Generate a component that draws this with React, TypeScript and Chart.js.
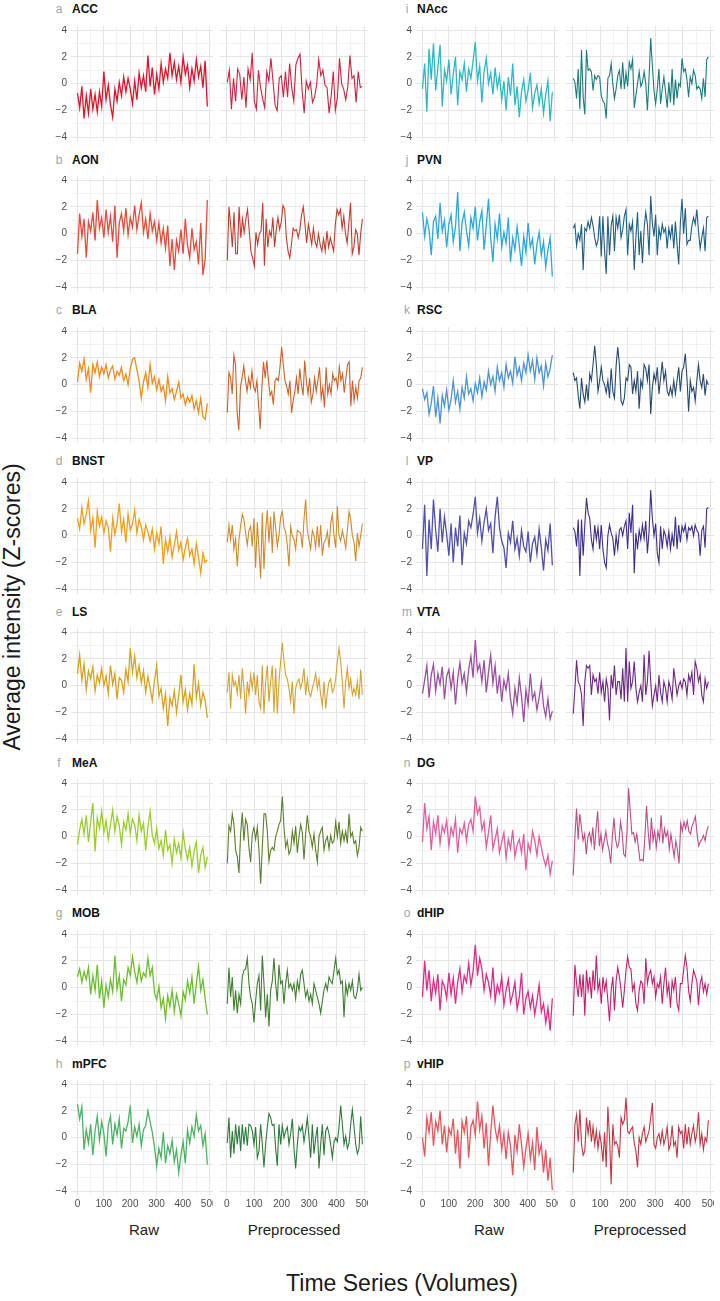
import React, { useEffect, useRef } from 'react';
import { Chart, registerables } from 'chart.js';
Chart.register(...registerables);

const ACC_RAW = [-0.7,-1.8,-0.2,-2.6,-0.9,-2.2,-0.4,-1.9,-0.8,-2.1,-0.6,-1.7,0.9,-1.2,-0.1,-1.6,-2.5,-0.4,-1.3,0.1,-0.9,0.5,-0.6,0.4,-0.4,-1.5,0.2,-1.2,0.8,-0.3,0.6,-0.6,2.1,-0.2,1.2,-0.8,0.7,-0.4,1.5,0.1,1.1,0.4,2.3,0.6,1.6,0.3,1.3,0.1,2.0,0.7,1.4,-0.3,1.1,0.2,1.8,0.5,1.3,-0.3,1.7,-1.7];
const ACC_PRE = [0.1,1.0,-1.9,0.4,-1.3,1.1,0.7,-1.2,0.5,-1.8,1.1,0.3,2.3,-1.3,-1.9,1.0,-0.3,-1.1,-1.8,0.9,0.2,1.9,0.2,-1.6,-2.0,0.4,0.6,-1.0,0.9,-1.0,1.5,-0.3,-1.3,1.4,1.9,2.2,-0.5,-2.2,0.2,-0.4,0.1,-1.4,-1.0,-0.1,1.8,0.6,1.0,-0.1,-0.3,-2.2,-0.9,0.9,-2.0,-1.0,1.9,0.0,-0.4,-1.2,-0.2,2.1,0.4,0.6,-1.4,0.9,-0.3,-0.2];
const AON_RAW = [-1.5,1.5,-0.2,1.1,-1.8,0.9,0.2,1.6,-0.5,2.5,0.4,1.2,-0.3,1.8,0.1,1.3,-0.6,2.1,-1.8,0.8,1.5,0.2,1.9,-0.1,1.2,0.5,2.1,0.3,1.4,2.3,0.1,1.1,-0.4,1.5,0.2,0.9,-0.5,0.8,-0.7,0.4,-1.1,0.6,-2.4,-0.4,-2.7,-0.5,-1.3,0.3,-1.5,1.1,-0.9,-1.8,0.4,-1.2,-0.6,-2.3,0.8,-3.1,-1.9,2.5];
const AON_PRE = [-2.0,2.0,0.7,-1.0,1.6,-1.5,-1.5,2.0,-0.3,1.1,0.1,1.1,1.8,0.2,-1.3,-1.8,-2.4,0.1,-0.8,0.0,0.2,2.3,-2.4,1.1,-1.0,0.2,-0.2,1.2,-1.0,0.3,1.2,0.3,0.9,2.1,1.8,-0.3,-1.3,-1.8,-0.8,0.4,0.2,0.3,-0.3,0.3,1.4,2.0,0.7,-0.7,0.7,0.0,-0.8,0.4,-0.6,-1.0,0.0,-0.8,-1.3,-0.4,-1.3,0.2,-1.0,-0.3,-0.8,-1.3,0.7,1.8,1.4,1.8,0.4,1.3,0.0,-0.7,0.8,2.3,-1.5,-1.0,0.3,0.0,-1.6,0.0,1.1];
const BLA_RAW = [0.2,1.6,1.0,1.9,0.4,1.2,-0.6,1.5,0.9,1.7,0.6,1.3,0.8,1.5,0.5,1.1,1.4,0.4,1.0,0.7,1.3,0.3,0.8,0.0,1.2,1.9,2.0,1.1,0.3,-1.0,0.2,0.9,-0.2,1.5,0.1,0.6,-0.4,0.4,-0.5,-0.1,-1.2,0.6,-0.6,-0.3,-1.1,-0.5,0.2,-1.0,-0.7,-1.5,-0.9,-1.3,-0.8,-1.8,-1.2,-2.1,-1.0,-2.4,-2.6,-1.4];
const BLA_PRE = [-2.1,0.9,0.5,-0.7,2.2,1.5,-2.1,-3.4,-0.2,0.5,1.4,0.3,-0.5,0.5,-0.2,1.0,-0.2,-0.5,0.3,-1.5,-3.3,-0.2,1.7,0.5,1.8,0.3,-0.8,-0.5,-1.5,0.3,0.5,0.3,1.3,2.8,1.5,0.3,-0.1,-0.7,0.3,-2.1,-1.2,-0.5,0.5,-0.7,1.2,0.0,-0.8,1.8,0.3,-0.7,0.5,-1.3,-0.7,0.5,-0.5,0.3,1.3,-1.0,-0.2,-1.7,1.3,-0.7,0.0,-0.7,0.8,0.3,0.5,-0.2,1.3,0.3,0.8,-0.6,0.5,1.5,1.7,-1.6,0.3,-1.2,-0.2,-1.0,0.3,0.5,1.3];
const BNST_RAW = [1.3,0.5,2.1,0.9,1.6,2.6,0.4,1.3,-0.9,1.8,0.7,1.4,0.2,1.1,0.6,-1.2,1.3,0.1,0.9,2.4,0.3,1.2,-0.5,1.6,0.4,0.9,1.9,0.2,1.2,0.7,-0.3,0.8,0.3,-0.4,0.5,-1.0,0.2,-0.6,0.7,-2.1,-0.3,-1.2,-0.1,-1.6,-0.7,0.3,-1.1,-0.5,-1.8,-0.9,-0.2,-1.5,-1.0,-2.1,-0.6,-1.6,-2.8,-1.3,-2.0,-1.8];
const BNST_PRE = [-0.5,0.8,-0.3,0.8,-1.0,-0.2,-2.3,-0.3,0.7,1.6,1.2,0.2,-0.7,0.4,0.7,-0.8,1.3,-2.4,1.0,-1.0,-3.2,1.7,-2.5,0.3,1.9,-0.5,1.4,-1.3,1.8,0.6,-0.8,0.0,1.4,1.8,0.6,0.3,-0.7,-2.3,0.7,0.0,-0.3,-1.0,0.4,0.3,0.2,-0.9,1.2,2.7,0.4,-0.3,-1.0,0.4,0.0,-0.9,0.7,-0.9,0.8,-1.5,-0.5,-0.3,0.3,-0.9,0.9,1.6,0.0,-0.9,2.2,0.0,-0.4,0.4,-0.2,-0.9,0.4,1.8,1.2,0.0,-0.5,-1.9,0.2,-0.8,0.0,0.9];
const LS_RAW = [0.9,2.3,0.4,1.6,-0.3,1.1,0.5,1.4,-0.4,0.8,0.2,1.3,0.0,0.7,-0.6,1.5,0.1,0.9,-1.0,0.6,0.4,-0.5,1.2,0.3,2.8,1.0,2.2,0.6,1.5,0.2,1.1,-0.5,0.7,-0.2,-1.1,0.4,1.5,-0.8,-0.2,-1.7,-0.6,-3.0,-0.9,-1.5,-0.4,-2.0,-0.7,0.8,-1.2,-0.3,-1.8,-0.6,-1.4,1.6,-0.9,0.2,-1.5,-0.5,-1.1,-2.4];
const LS_PRE = [-0.5,1.0,-1.7,0.8,0.0,0.3,-0.6,0.8,-1.0,1.3,-0.2,-2.1,0.3,-0.7,0.8,-0.2,1.0,-0.7,0.8,-1.2,-1.7,1.5,-2.1,0.3,1.5,-1.2,0.3,1.5,-2.0,1.3,-2.1,0.3,1.8,3.2,1.8,0.8,0.5,-0.2,-1.2,0.3,-2.1,-0.2,0.3,0.5,-0.2,0.3,1.3,-0.7,0.5,-0.5,-0.8,-0.2,0.3,0.9,-0.2,0.5,-0.7,-1.5,0.3,-1.7,-0.5,0.3,0.5,-0.5,-0.2,0.5,1.8,2.8,1.8,0.3,-1.7,0.3,1.3,-0.2,0.5,-0.7,-0.2,-0.7,0.3,-1.0,1.2,-0.7];
const MEA_RAW = [-0.6,0.5,1.3,0.2,1.6,-0.4,1.1,2.5,-1.1,1.4,0.6,1.9,0.3,1.2,-0.2,0.9,2.0,0.4,1.5,0.8,-0.6,1.1,0.5,1.7,0.2,1.3,0.9,-0.3,1.6,0.4,1.0,-1.0,0.7,1.9,0.1,-0.5,0.6,-0.9,-0.3,-1.4,0.5,-1.0,-0.6,-2.0,-0.2,-1.2,-0.5,-1.6,0.3,-0.9,-1.7,-0.8,-2.2,-1.1,-0.4,-2.7,-1.4,-0.8,-2.3,-1.5];
const MEA_PRE = [-2.0,0.8,0.4,1.7,0.9,-1.0,-1.5,-2.7,0.2,1.8,-0.3,1.3,0.9,-0.8,-1.9,0.2,0.7,-0.2,0.7,-1.0,-3.5,-0.8,1.7,1.7,0.4,-1.8,-1.0,-0.8,-1.0,0.0,0.4,0.9,1.2,3.0,0.7,-0.8,-0.3,-1.3,-1.0,0.4,-0.5,0.8,-1.2,0.0,0.9,0.3,-1.7,0.2,1.6,0.4,0.0,-0.8,0.2,-1.0,-1.9,0.0,0.4,0.7,-1.0,-0.3,0.0,-0.9,0.1,-0.5,-0.3,1.1,0.0,1.1,-0.5,0.4,-0.3,0.4,-0.5,1.7,0.0,0.3,-0.5,-0.3,-1.4,-0.8,0.7,0.4];
const MOB_RAW = [0.8,1.4,0.4,1.2,0.6,1.5,-0.5,0.9,-0.2,1.7,-0.8,0.5,-1.5,0.2,-0.7,0.6,-0.3,2.4,-0.1,0.9,-1.0,0.6,0.2,1.5,0.9,2.3,1.2,0.4,1.6,0.5,1.1,0.8,2.2,0.9,1.5,-0.4,-0.9,0.1,-1.5,-0.8,-2.3,-0.6,-1.4,-0.2,-1.8,-0.5,-1.2,-2.1,-0.3,-0.9,0.5,-0.4,0.8,-1.2,0.3,1.6,-0.2,0.6,-0.8,-2.0];
const MOB_PRE = [-1.2,1.5,-0.7,0.8,-1.7,-0.2,-1.9,-0.5,-1.2,0.8,1.3,1.4,2.2,0.3,-0.7,-1.2,-2.6,-1.0,0.3,0.9,-1.7,2.4,0.3,-2.2,-0.5,-2.9,-0.2,0.5,2.2,0.3,-1.0,1.7,0.3,0.5,-1.2,0.3,1.3,0.0,0.3,-0.2,0.3,-0.8,0.5,-0.2,1.0,1.3,0.3,-0.7,-0.2,-1.0,-0.5,-1.2,0.3,-0.2,-0.7,-1.2,-1.9,-1.0,-0.2,0.3,-0.2,0.8,0.5,0.3,1.3,2.2,1.0,1.3,0.3,0.5,-2.2,0.3,-0.5,0.3,-0.2,0.5,-0.7,-0.8,-0.2,1.0,-0.2,0.0];
const MPFC_RAW = [2.5,1.4,2.3,-0.9,0.6,-0.4,1.0,-1.3,0.5,1.6,-0.2,1.2,0.3,-1.4,0.9,1.6,-0.5,1.0,0.2,1.4,-0.8,0.7,0.5,1.2,2.4,-0.4,0.8,0.1,1.0,-0.6,0.6,0.9,2.0,1.2,0.4,-0.7,-2.1,-0.8,-1.5,0.4,-1.9,-0.6,-1.2,-0.2,-1.8,-0.9,-2.6,-1.3,-0.3,-1.9,0.6,-0.4,0.8,0.1,1.7,0.5,0.9,-0.6,0.3,-2.0];
const MPFC_PRE = [-0.4,1.5,-1.5,0.5,-1.2,1.0,-0.5,0.9,-1.0,1.0,-0.5,0.8,-0.6,1.0,0.9,0.5,-0.5,0.8,-1.5,-1.0,1.0,-0.5,-2.2,-0.5,0.8,1.8,1.5,0.9,1.0,-0.8,-2.1,1.0,-0.5,0.9,0.0,0.5,0.8,-0.5,0.3,1.4,-0.8,-2.3,-0.5,0.8,0.5,0.9,-0.3,0.5,1.5,0.0,-1.5,1.0,-1.2,0.0,0.8,-2.3,-0.5,1.0,-1.3,0.5,0.8,0.3,-0.5,-1.5,-0.3,0.0,-0.3,0.8,2.4,1.0,-0.5,0.1,-0.8,-0.4,1.0,2.1,0.8,-0.5,-1.2,-0.8,1.6,-0.5];
const NACC_RAW = [-0.4,1.5,-2.1,2.6,0.3,3.0,-0.5,1.2,2.9,-1.7,1.0,0.2,1.8,-0.8,0.7,2.0,-1.6,0.9,0.3,1.5,-0.6,1.1,0.4,1.7,3.1,0.2,1.3,-1.4,0.9,1.9,0.0,0.8,-0.8,1.2,-0.3,0.6,-1.2,0.2,-2.0,0.5,-0.9,1.5,-1.6,-0.2,-2.5,-0.6,0.3,-1.3,-0.5,0.8,-1.8,-0.7,-0.1,-1.5,-0.4,-2.2,-0.8,0.2,-2.8,-0.6];
const NACC_PRE = [0.4,0.1,-1.1,1.1,-1.9,2.5,-1.0,-2.3,2.5,1.0,1.1,0.9,-0.5,0.6,0.3,0.6,0.5,-0.9,-1.3,-1.5,-2.6,0.4,0.6,1.5,0.0,-1.1,-0.4,0.6,1.0,-0.4,1.6,-0.4,0.8,-0.2,1.6,1.1,1.8,-1.8,-0.9,0.0,0.9,-0.2,0.1,0.9,0.0,-2.0,0.5,3.4,1.3,-0.5,-1.5,-0.4,1.1,-1.5,-0.4,0.5,-0.6,-1.8,0.1,-1.4,1.1,-1.6,0.3,-1.1,0.0,-0.2,1.9,0.9,1.1,0.3,-1.0,0.5,0.0,1.0,0.6,-0.4,-0.2,-0.4,-1.1,0.4,-1.0,1.8,2.0];
const PVN_RAW = [1.6,-0.2,1.1,0.3,-1.6,0.9,1.3,-0.4,2.3,0.2,1.0,-1.0,0.7,1.4,-0.6,0.5,3.1,-1.3,0.8,1.6,0.2,-0.9,1.2,0.4,2.0,-0.5,0.9,1.7,-1.2,0.6,2.6,-0.3,-2.1,0.7,-0.4,1.5,-1.0,0.1,-0.7,1.2,-2.1,-0.3,-1.2,0.5,-0.9,-2.4,-0.2,-1.4,0.8,-1.0,-0.4,-2.3,-0.8,0.1,-1.6,-0.6,-2.5,-1.2,-0.3,-3.2];
const PVN_PRE = [0.4,0.7,-0.9,0.0,-0.5,0.7,-2.7,0.4,0.2,0.9,0.4,1.2,0.6,-0.3,-0.9,-0.5,1.3,-1.7,1.3,-1.3,-3.0,1.3,-1.6,0.6,1.3,-1.3,1.2,0.4,1.4,-0.3,0.3,1.3,1.8,-1.6,0.7,0.2,0.9,-2.7,-0.3,1.6,-1.6,0.2,-2.2,0.4,1.6,0.7,-1.6,2.8,0.8,-0.2,1.4,-1.6,0.4,-0.3,0.7,0.1,0.4,-1.1,0.4,-0.3,0.7,-1.1,0.9,-0.8,-2.3,0.8,2.6,0.0,1.9,-0.8,-0.5,-0.5,0.6,1.2,0.7,1.8,0.2,-1.1,-0.3,0.4,-1.3,1.2,1.3];
const RSC_RAW = [-0.3,-1.1,-0.6,-2.2,-1.4,-0.1,-2.4,-1.0,-2.9,-0.8,-1.6,-0.4,-1.9,-1.1,0.3,-1.3,-0.5,-1.8,-0.2,-1.0,0.6,-0.7,-0.3,-1.2,0.1,-0.6,0.5,-0.9,0.2,-0.4,1.0,0.0,0.6,-0.5,1.3,0.3,0.9,-0.2,1.5,0.5,1.0,0.1,2.1,0.7,1.3,0.3,1.6,0.9,2.2,1.0,1.8,0.4,2.0,0.9,1.4,-0.1,1.6,0.6,1.2,2.2];
const RSC_PRE = [0.9,0.3,0.5,-0.8,-1.8,0.5,-0.7,-1.3,0.0,-1.2,0.8,0.3,1.5,2.9,1.5,-0.5,0.3,1.3,0.3,0.0,-0.6,0.3,-1.0,1.2,-0.5,-1.0,1.4,2.8,1.5,-1.2,-1.5,-1.0,0.5,0.3,1.5,1.3,-0.7,0.3,-0.5,1.0,-1.8,0.3,-0.2,1.5,1.2,0.3,1.5,-2.2,-0.2,0.8,0.2,1.3,-0.7,0.5,1.7,0.3,1.0,-0.5,-0.8,-0.2,-0.8,0.3,-0.7,0.3,1.3,-0.5,1.0,1.3,2.3,0.5,-2.0,0.3,-0.5,-0.2,-1.2,0.3,1.5,0.3,-0.2,0.8,-0.8,0.3,0.0];
const VP_RAW = [-1.0,2.3,-3.0,1.2,-1.0,2.7,0.4,-1.2,2.0,-0.5,1.4,0.1,-1.5,0.9,-2.0,0.6,-0.8,1.5,-2.2,0.2,-0.6,1.1,0.6,1.6,2.9,0.2,1.3,-0.4,1.0,2.0,0.4,0.9,-1.3,1.4,2.9,0.6,-0.4,-0.9,-2.4,0.2,-0.5,1.1,-1.0,-0.2,-1.5,0.4,-0.8,-1.2,0.3,-2.0,-0.6,-0.1,-1.4,0.5,-0.9,-2.6,-0.3,-1.1,0.9,-2.2];
const VP_PRE = [0.6,0.3,-0.8,1.2,-3.0,1.2,-1.5,0.8,2.8,1.7,1.3,-0.3,-1.0,0.8,-0.3,0.6,-1.0,0.8,-1.0,-2.0,-2.4,0.0,0.8,0.2,-0.2,-1.5,0.0,-1.0,0.4,0.6,0.0,0.7,1.1,-1.0,1.7,0.2,2.3,-2.8,0.2,-1.0,0.4,-0.3,0.8,-0.2,1.1,-1.3,0.3,3.4,1.3,0.0,0.9,-1.3,-2.0,0.7,-1.0,0.4,0.0,-0.8,0.3,-1.0,0.1,-0.8,1.4,-1.0,0.8,-0.5,0.7,0.3,0.8,-0.3,0.6,0.4,0.7,0.0,0.8,0.4,0.2,-1.5,0.4,0.7,-0.9,2.0,2.1];
const VTA_RAW = [-0.6,0.4,1.5,-0.9,0.8,1.6,-0.4,0.9,0.1,1.4,-1.0,0.7,1.2,-0.2,1.0,-1.4,0.5,1.7,0.2,0.9,-0.5,1.2,2.2,0.6,3.4,1.1,1.6,0.3,1.9,-0.5,1.0,2.3,0.2,1.5,-0.6,0.8,-1.2,0.4,-0.3,0.9,-1.0,-2.1,-0.2,-1.3,0.6,-0.8,-2.7,-0.3,-1.4,0.9,-1.0,-0.5,-1.8,-0.9,0.3,-1.5,-2.3,-1.0,-2.5,-1.9];
const VTA_PRE = [-2.1,-0.2,1.9,0.3,0.0,-0.7,-3.0,0.3,1.5,1.3,1.5,-0.7,0.8,0.3,0.5,-0.6,1.0,-0.5,0.3,-1.2,0.5,-0.2,-2.6,0.8,-0.2,1.5,-0.7,0.3,0.3,-1.0,1.3,-1.2,2.8,-1.2,1.8,-0.2,0.3,1.8,-0.2,-1.2,-0.5,0.0,-1.2,2.3,-0.7,0.3,2.6,0.3,-1.5,-0.7,0.0,-1.2,0.8,-0.5,-1.2,0.3,-0.2,-1.2,0.3,-0.2,-1.0,1.3,0.3,-0.7,0.0,0.3,-0.2,0.5,0.3,-0.7,0.8,0.3,1.0,-0.7,1.8,1.3,0.3,0.8,-0.7,-1.2,0.5,-0.2,0.3];
const DG_RAW = [-0.4,2.5,0.6,1.5,-1.0,1.1,0.2,1.6,-0.5,0.8,0.3,1.2,-0.7,0.7,0.1,1.3,-1.2,0.6,0.2,1.0,-0.3,0.9,1.3,0.4,3.0,1.7,2.2,0.5,1.1,-0.8,0.3,1.6,-0.9,-0.2,0.6,-1.2,-0.4,0.3,-1.6,-0.2,-0.9,0.5,-1.5,-0.6,-0.2,-1.2,0.2,-2.5,-0.5,-1.1,0.4,-0.3,-1.4,0.0,-0.8,-1.6,-2.2,-1.4,-2.8,-1.8];
const DG_PRE = [-2.9,0.0,2.1,-0.2,1.7,0.7,-0.3,0.2,-1.3,0.0,0.3,-0.5,0.7,-1.0,0.6,1.9,-0.7,0.2,-1.0,-0.3,0.4,-0.5,-1.0,-2.0,0.0,1.4,-0.2,-0.8,-0.5,1.1,0.3,-1.3,-1.5,0.4,3.6,1.9,0.2,0.3,-0.4,0.2,-0.8,-1.8,-1.7,-1.8,0.0,2.3,0.4,-1.0,1.4,-0.3,0.4,-0.8,0.4,-0.2,1.6,-0.5,0.6,0.0,0.4,-0.9,0.2,-0.7,-1.5,-0.3,-1.0,-2.0,1.0,0.4,1.1,0.6,1.2,0.4,0.2,0.8,1.1,1.5,0.3,-0.7,-0.4,-0.2,0.1,-0.3,0.4,0.8];
const DHIP_RAW = [-0.7,2.0,-0.2,1.3,-1.0,0.6,-0.4,1.0,-1.7,0.5,0.1,-0.8,1.1,-0.5,0.7,-1.2,0.4,1.4,-0.3,0.9,0.4,1.8,0.2,1.2,3.2,0.9,2.2,1.4,-0.2,1.0,0.4,-0.6,1.5,-1.0,0.2,-0.4,0.8,-1.3,-0.2,0.6,-1.1,-0.5,0.4,-1.6,-0.7,1.1,-2.0,-0.8,-0.3,-1.5,-0.6,-2.0,-1.0,0.2,-1.8,-1.2,-2.6,-1.5,-3.2,-0.8];
const DHIP_PRE = [-2.1,1.7,0.3,-0.7,1.0,-0.7,1.0,-2.1,1.3,-0.2,0.8,-0.8,1.3,-0.2,2.4,-0.2,0.5,-1.2,0.8,-0.2,0.5,-1.0,-2.5,-0.2,0.8,-1.7,0.5,1.5,0.8,-0.2,-1.5,-0.2,1.3,2.3,1.5,1.4,-0.2,0.3,-1.2,-1.7,-0.2,0.5,0.3,-1.2,2.2,0.3,1.0,1.3,0.3,0.8,-0.7,0.3,0.0,0.8,-1.2,0.3,1.5,-0.5,0.3,-1.5,0.5,-0.2,0.8,-1.2,-1.7,0.3,0.3,1.3,2.4,1.5,-0.2,-1.0,0.3,1.3,0.9,0.5,-1.3,0.3,0.8,-0.3,0.3,-0.5,0.3];
const VHIP_RAW = [0.0,-1.4,1.5,0.4,1.9,-0.6,1.2,0.5,2.0,-0.5,0.9,-1.1,0.7,0.2,1.4,-1.2,0.6,-2.3,1.2,0.4,1.6,-1.5,0.8,1.3,0.2,2.7,0.6,1.6,-0.8,1.1,-2.1,0.3,2.4,0.7,-0.2,0.9,-0.9,0.3,-1.6,0.4,-0.6,-2.8,0.2,-1.0,1.0,-0.5,-2.2,-0.8,0.3,-1.6,-0.4,-2.4,0.8,-1.2,-0.5,-2.6,-0.9,-3.2,-1.5,-3.9];
const VHIP_PRE = [-2.6,1.0,1.7,-0.3,2.1,-0.5,-1.3,-1.0,1.5,0.3,1.3,-0.3,0.8,-0.5,0.5,-0.8,0.3,-0.5,-1.8,0.4,-2.2,2.3,0.0,-3.5,1.0,-0.5,-0.3,-0.6,-1.5,1.5,1.0,1.3,3.0,0.5,0.3,0.6,0.8,-0.4,-1.0,-2.2,0.0,-0.5,0.3,0.8,-0.3,0.1,0.5,1.5,2.6,-0.5,-0.8,0.0,0.3,-0.4,0.5,-0.5,0.0,0.8,-0.9,-0.5,0.9,-0.6,-0.3,-1.5,0.8,0.3,0.5,-0.8,1.0,-0.5,0.8,-0.5,0.3,0.9,-0.3,0.3,1.9,-0.5,0.3,-0.9,0.0,-0.3,1.3];

const REGIONS = ['ACC','AON','BLA','BNST','LS','MeA','MOB','mPFC','NAcc','PVN','RSC','VP','VTA','DG','dHIP','vHIP'];
const LETTERS = ['a','b','c','d','e','f','g','h','i','j','k','l','m','n','o','p'];
const RAW_SERIES = [ACC_RAW,AON_RAW,BLA_RAW,BNST_RAW,LS_RAW,MEA_RAW,MOB_RAW,MPFC_RAW,NACC_RAW,PVN_RAW,RSC_RAW,VP_RAW,VTA_RAW,DG_RAW,DHIP_RAW,VHIP_RAW];
const PRE_SERIES = [ACC_PRE,AON_PRE,BLA_PRE,BNST_PRE,LS_PRE,MEA_PRE,MOB_PRE,MPFC_PRE,NACC_PRE,PVN_PRE,RSC_PRE,VP_PRE,VTA_PRE,DG_PRE,DHIP_PRE,VHIP_PRE];
const RAW_COLORS = ['#E5112B','#E8493A','#F28B1C','#F59C1A','#D9A21E','#9ACD2C','#6DBE2E','#4CB263','#2EB8C3','#2AA7E0','#4C92D8','#5050A8','#9B50A0','#E45C9E','#E12A83','#E8545C'];
const PRE_COLORS = ['#D21F3C','#C63A2E','#CC6129','#D2892C','#D7A12E','#5B7F2B','#3F7E30','#2D7B3C','#1B7B7D','#1F5D85','#26496F','#3B2F8C','#6C2783','#C04B86','#C1206D','#C43442'];

const X_TICKS = [0,50,100,150,200,250,300,350,400,450,500];
const Y_TICKS = [-4,-3,-2,-1,0,1,2,3,4];
const RAW_RANGE = [0, 493];
const PRE_RANGE = [2, 494];

// ---- Layout ----
const X_MIN = -24.5, X_MAX = 514.5, Y_MIN = -4.35, Y_MAX = 4.3;
const ROW_PERIOD = 150.7;
const ROW_TOP0 = 25.5;
const PANEL_H = 116;
const RAW_W = 142, PRE_W = 148;
const COL_RAW_LEFT = [71, 416];
const COL_PRE_LEFT = [220, 566];
const FONT = '"Liberation Sans", Arial, Helvetica, sans-serif';
const Y_AX_W = 30, X_AX_H = 16;

function LinePanel(props: { left: number; top: number; width: number; height: number; values: number[]; color: string; isRaw: boolean; showX: boolean; showY: boolean; }) {
  const { left, top, width, height, values, color, isRaw, showX, showY } = props;
  const ref = useRef<HTMLCanvasElement | null>(null);
  const axW = showY ? Y_AX_W : 0;
  const axH = showX ? X_AX_H : 0;
  useEffect(() => {
    if (!ref.current) return;
    const [s, e] = isRaw ? RAW_RANGE : PRE_RANGE;
    const pts = values.map((v, i) => ({ x: s + ((e - s) * i) / (values.length - 1), y: v }));
    const gridColor = (major: boolean) => (major ? '#E4E4E4' : '#EFEFEF');
    const chart = new Chart(ref.current, {
      type: 'line',
      data: {
        datasets: [{ data: pts, borderColor: color, borderWidth: isRaw ? 1.3 : 1.1, pointRadius: 0, tension: 0, fill: false }],
      },
      options: {
        animation: false,
        responsive: false,
        devicePixelRatio: 1,
        events: [],
        layout: { padding: 0 },
        plugins: { legend: { display: false }, tooltip: { enabled: false } },
        scales: {
          x: {
            type: 'linear', min: X_MIN, max: X_MAX,
            border: { display: false },
            grid: {
              drawTicks: false,
              color: (c: any) => gridColor(c.tick && c.tick.value % 100 === 0),
              lineWidth: (c: any) => (c.tick && c.tick.value % 100 === 0 ? 1 : 0.8),
            },
            ticks: {
              display: showX, autoSkip: false, maxRotation: 0, padding: 2,
              color: '#4D4D4D', font: { family: FONT, size: 10 },
              callback: (v: any) => (Number(v) % 100 === 0 ? String(v) : ''),
            },
            afterBuildTicks: (sc: any) => { sc.ticks = X_TICKS.map((v) => ({ value: v })); },
            afterFit: (sc: any) => { sc.height = axH; sc.paddingLeft = 0; sc.paddingRight = 0; sc.paddingTop = 0; sc.paddingBottom = 0; },
          },
          y: {
            type: 'linear', min: Y_MIN, max: Y_MAX,
            border: { display: false },
            grid: {
              drawTicks: false,
              color: (c: any) => gridColor(c.tick && c.tick.value % 2 === 0),
              lineWidth: (c: any) => (c.tick && c.tick.value % 2 === 0 ? 1 : 0.8),
            },
            ticks: {
              display: showY, autoSkip: false, padding: 4,
              color: '#4D4D4D', font: { family: FONT, size: 10 },
              callback: (v: any) => {
                const n = Number(v);
                if (n % 2 !== 0) return '';
                return n < 0 ? '\u2212' + Math.abs(n) : String(n);
              },
            },
            afterBuildTicks: (sc: any) => { sc.ticks = Y_TICKS.map((v) => ({ value: v })); },
            afterFit: (sc: any) => { sc.width = axW; sc.paddingLeft = 0; sc.paddingRight = 0; sc.paddingTop = 0; sc.paddingBottom = 0; },
          },
        },
      },
    });
    return () => chart.destroy();
  }, []);
  return (
    <canvas
      ref={ref}
      width={width + axW}
      height={height + axH}
      style={{ position: 'absolute', left: left - axW, top, width: width + axW, height: height + axH }}
    />
  );
}

export default function App() {
  const items: any[] = [];
  REGIONS.forEach((name, idx) => {
    const col = idx < 8 ? 0 : 1;
    const row = idx % 8;
    const top = Math.round(ROW_TOP0 + ROW_PERIOD * row);
    const titleY = 9 + ROW_PERIOD * row;
    const rawLeft = COL_RAW_LEFT[col];
    const preLeft = COL_PRE_LEFT[col];
    const bottom = row === 7;
    items.push(
      <div key={'l' + idx} style={{ position: 'absolute', left: rawLeft - (col === 0 ? 18 : 15), width: 12, top: titleY - 8, height: 16, lineHeight: '16px', textAlign: 'center', fontFamily: FONT, fontSize: 12, color: '#A3A3A3' }}>{LETTERS[idx]}</div>,
      <div key={'n' + idx} style={{ position: 'absolute', left: rawLeft + 1, top: titleY - 8, height: 16, lineHeight: '16px', fontFamily: FONT, fontSize: 12, fontWeight: 'bold', color: '#111', whiteSpace: 'nowrap' }}>{name}</div>,
      <LinePanel key={'r' + idx} left={rawLeft} top={top} width={RAW_W} height={PANEL_H} values={RAW_SERIES[idx]} color={RAW_COLORS[idx]} isRaw={true} showX={bottom} showY={true} />,
      <LinePanel key={'p' + idx} left={preLeft} top={top} width={PRE_W} height={PANEL_H} values={PRE_SERIES[idx]} color={PRE_COLORS[idx]} isRaw={false} showX={bottom} showY={false} />
    );
  });
  const sub = (text: string, cx: number, k: string) => (
    <div key={k} style={{ position: 'absolute', left: cx - 80, width: 160, top: 1220, height: 20, lineHeight: '20px', textAlign: 'center', fontFamily: FONT, fontSize: 15, color: '#222' }}>{text}</div>
  );
  return (
    <div style={{ position: 'absolute', left: 0, top: 0, width: 720, height: 1301, background: '#fff', overflow: 'hidden' }}>
      {items}
      {sub('Raw', COL_RAW_LEFT[0] + RAW_W / 2 + 2, 's1')}
      {sub('Preprocessed', COL_PRE_LEFT[0] + PRE_W / 2, 's2')}
      {sub('Raw', COL_RAW_LEFT[1] + RAW_W / 2 + 2, 's3')}
      {sub('Preprocessed', COL_PRE_LEFT[1] + PRE_W / 2, 's4')}
      <div style={{ position: 'absolute', left: 402 - 200, width: 400, top: 1269, height: 28, lineHeight: '28px', textAlign: 'center', fontFamily: FONT, fontSize: 23, color: '#1A1A1A' }}>Time Series (Volumes)</div>
      <div style={{ position: 'absolute', left: 12, top: 607, transform: 'translate(-50%, -50%) rotate(-90deg)', whiteSpace: 'nowrap', fontFamily: FONT, fontSize: 23, color: '#1A1A1A', lineHeight: '28px' }}>Average intensity (Z-scores)</div>
    </div>
  );
}
